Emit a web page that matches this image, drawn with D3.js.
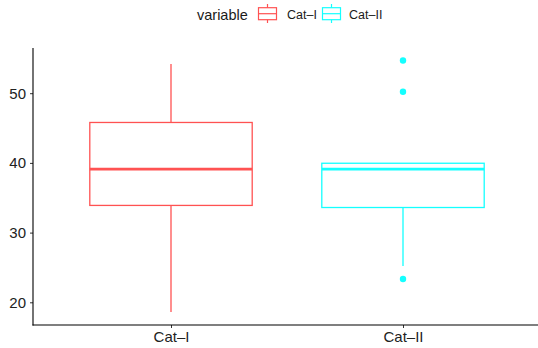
<!DOCTYPE html>
<html>
<head>
<meta charset="utf-8">
<script src="https://cdn.jsdelivr.net/npm/d3@7"></script>
<style>
  body { margin: 0; background: #fff; }
  svg { display: block; font-family: "Liberation Sans", Arial, sans-serif; }
</style>
</head>
<body>
<svg width="538" height="348"></svg>
<script>
// box stats
var categories = ["Cat–I", "Cat–II"];
var colors = ["#ff5252", "#14ffff"];
var lowWhisker = [18.6, 25.2];
var q1 = [33.9, 33.6];
var median = [39.1, 39.1];
var q3 = [45.8, 39.95];
var highWhisker = [54.2, 39.95];
var outliers = [[], [54.7, 50.2, 23.35]];
var yTicks = [20, 30, 40, 50];

var svg = d3.select("svg"),
    width = 538,
    height = 348;

var boxes = categories.map(function (c, i) {
    return {
        name: c, pos: i + 1, color: colors[i],
        lo: lowWhisker[i], q1: q1[i], med: median[i], q3: q3[i], hi: highWhisker[i],
        out: outliers[i]
    };
});

// positions: 1, 2 on a continuous scale (ggplot style expansion)
var x = d3.scaleLinear().domain([0.4, 2.6]).range([31.8, 542.2]);
var y = d3.scaleLinear().domain([20, 50]).range([302.3, 93.2]);
var boxWidth = 0.7;

var plot = svg.append("g");

var g = plot.selectAll(".box")
    .data(boxes)
    .enter().append("g")
    .attr("class", "box");

// whiskers
g.append("line")
    .attr("x1", function (d) { return x(d.pos); })
    .attr("x2", function (d) { return x(d.pos); })
    .attr("y1", function (d) { return y(d.hi); })
    .attr("y2", function (d) { return y(d.q3); })
    .attr("stroke", function (d) { return d.color; })
    .attr("stroke-width", 1.3);
g.append("line")
    .attr("x1", function (d) { return x(d.pos); })
    .attr("x2", function (d) { return x(d.pos); })
    .attr("y1", function (d) { return y(d.q1); })
    .attr("y2", function (d) { return y(d.lo); })
    .attr("stroke", function (d) { return d.color; })
    .attr("stroke-width", 1.3);

// box
g.append("rect")
    .attr("x", function (d) { return x(d.pos - boxWidth / 2); })
    .attr("width", function (d) { return x(d.pos + boxWidth / 2) - x(d.pos - boxWidth / 2); })
    .attr("y", function (d) { return y(d.q3); })
    .attr("height", function (d) { return y(d.q1) - y(d.q3); })
    .attr("fill", "white")
    .attr("stroke", function (d) { return d.color; })
    .attr("stroke-width", 1.3);

// median
g.append("line")
    .attr("x1", function (d) { return x(d.pos - boxWidth / 2); })
    .attr("x2", function (d) { return x(d.pos + boxWidth / 2); })
    .attr("y1", function (d) { return y(d.med); })
    .attr("y2", function (d) { return y(d.med); })
    .attr("stroke", function (d) { return d.color; })
    .attr("stroke-width", 2.6);

// outliers
g.selectAll(".out")
    .data(function (d) { return d.out.map(function (v) { return { v: v, pos: d.pos, color: d.color }; }); })
    .enter().append("circle")
    .attr("class", "out")
    .attr("cx", function (d) { return x(d.pos); })
    .attr("cy", function (d) { return y(d.v); })
    .attr("r", 3.2)
    .attr("fill", function (d) { return d.color; });

// axes
var yAxis = svg.append("g")
    .attr("transform", "translate(33,0)")
    .call(d3.axisLeft(y).tickValues(yTicks).tickSize(3).tickPadding(4));
yAxis.select(".domain").remove();
svg.append("line")
    .attr("x1", 33).attr("x2", 33).attr("y1", 48).attr("y2", 325.5)
    .attr("stroke", "black").attr("stroke-width", 1.1);

var xAxis = svg.append("g")
    .attr("transform", "translate(0,325)")
    .call(d3.axisBottom(x).tickValues([1, 2]).tickFormat(function (d) { return categories[d - 1]; })
        .tickSize(3).tickPadding(3));
xAxis.select(".domain").remove();
svg.append("line")
    .attr("x1", 32.5).attr("x2", 538).attr("y1", 325).attr("y2", 325)
    .attr("stroke", "black").attr("stroke-width", 1.1);

svg.selectAll(".tick line").attr("stroke", "#333");
svg.selectAll(".tick text")
    .attr("fill", "#222")
    .style("font-size", "15px")
    .style("font-family", "'Liberation Sans', Arial, sans-serif");

// legend
var legend = svg.append("g");
legend.append("text")
    .attr("x", 197).attr("y", 19.5)
    .style("font-size", "14.5px")
    .attr("fill", "#1a1a1a")
    .text("variable");

var keyX = [258.5, 322.5];
var labelX = [287, 349];
boxes.forEach(function (d, i) {
    var k = legend.append("g").attr("transform", "translate(" + keyX[i] + ",0)");
    k.append("line").attr("x1", 9).attr("x2", 9).attr("y1", 4).attr("y2", 23)
        .attr("stroke", d.color).attr("stroke-width", 1.2);
    k.append("rect").attr("x", 0).attr("y", 7.7).attr("width", 18).attr("height", 12)
        .attr("fill", "white").attr("stroke", d.color).attr("stroke-width", 1.2);
    k.append("line").attr("x1", 0).attr("x2", 18).attr("y1", 13.7).attr("y2", 13.7)
        .attr("stroke", d.color).attr("stroke-width", 1.2);
    legend.append("text")
        .attr("x", labelX[i]).attr("y", 18.5)
        .style("font-size", "12.5px")
        .attr("fill", "#1a1a1a")
        .text(d.name);
});
</script>
</body>
</html>
